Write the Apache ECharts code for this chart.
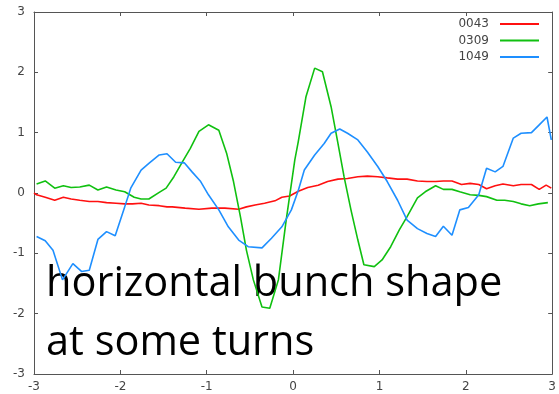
<!DOCTYPE html>
<html>
<head>
<meta charset="utf-8">
<script src="https://cdn.jsdelivr.net/npm/echarts@6/dist/echarts.min.js"></script>
<style>
  html, body { margin: 0; padding: 0; background: #fff; }
  #chart { width: 559px; height: 394px; }
</style>
</head>
<body>
<div id="chart"></div>
<script>
// Series names shown in the legend
const seriesNames = ['0043', '0309', '1049'];

// Horizontal positions and profile values for each turn
const x0043 = [-3.0, -2.97, -2.87, -2.76, -2.66, -2.57, -2.47, -2.36, -2.26, -2.16, -2.05, -1.95, -1.86, -1.76, -1.67, -1.55, -1.46, -1.40, -1.25, -1.09, -0.94, -0.79, -0.63, -0.54, -0.44, -0.33, -0.21, -0.13, -0.04, 0.06, 0.17, 0.29, 0.40, 0.52, 0.63, 0.75, 0.86, 0.98, 1.09, 1.21, 1.32, 1.44, 1.55, 1.65, 1.74, 1.84, 1.95, 2.05, 2.15, 2.24, 2.34, 2.43, 2.55, 2.64, 2.76, 2.85, 2.93, 2.99];
const y0043 = [0.0, -0.03, -0.07, -0.12, -0.07, -0.10, -0.12, -0.14, -0.14, -0.16, -0.17, -0.18, -0.18, -0.17, -0.20, -0.21, -0.23, -0.23, -0.25, -0.27, -0.25, -0.25, -0.27, -0.23, -0.20, -0.17, -0.13, -0.07, -0.05, 0.03, 0.09, 0.13, 0.19, 0.23, 0.24, 0.27, 0.28, 0.27, 0.25, 0.23, 0.23, 0.20, 0.19, 0.19, 0.20, 0.20, 0.14, 0.16, 0.14, 0.07, 0.12, 0.15, 0.12, 0.14, 0.14, 0.06, 0.13, 0.08];

const x0309 = [-2.97, -2.87, -2.76, -2.66, -2.57, -2.47, -2.36, -2.26, -2.16, -2.05, -1.95, -1.84, -1.76, -1.67, -1.55, -1.47, -1.38, -1.28, -1.19, -1.09, -0.98, -0.86, -0.77, -0.69, -0.61, -0.54, -0.46, -0.36, -0.27, -0.17, -0.08, 0.02, 0.06, 0.15, 0.25, 0.34, 0.44, 0.52, 0.59, 0.67, 0.75, 0.82, 0.94, 1.03, 1.13, 1.23, 1.32, 1.44, 1.53, 1.65, 1.74, 1.84, 1.93, 2.05, 2.15, 2.24, 2.36, 2.45, 2.55, 2.64, 2.74, 2.84, 2.95];
const y0309 = [0.15, 0.20, 0.08, 0.12, 0.09, 0.10, 0.13, 0.05, 0.10, 0.05, 0.02, -0.07, -0.10, -0.10, 0.01, 0.08, 0.27, 0.52, 0.74, 1.02, 1.13, 1.04, 0.66, 0.19, -0.39, -0.95, -1.44, -1.89, -1.91, -1.44, -0.45, 0.55, 0.85, 1.60, 2.07, 2.01, 1.43, 0.82, 0.27, -0.28, -0.78, -1.19, -1.22, -1.11, -0.89, -0.61, -0.39, -0.08, 0.02, 0.12, 0.06, 0.06, 0.02, -0.03, -0.04, -0.06, -0.12, -0.12, -0.14, -0.18, -0.21, -0.18, -0.16];

const x1049 = [-2.97, -2.87, -2.78, -2.67, -2.55, -2.45, -2.36, -2.26, -2.16, -2.06, -1.95, -1.88, -1.76, -1.67, -1.55, -1.46, -1.36, -1.26, -1.17, -1.07, -0.98, -0.86, -0.75, -0.63, -0.52, -0.36, -0.25, -0.13, -0.02, 0.06, 0.13, 0.25, 0.36, 0.44, 0.54, 0.63, 0.75, 0.86, 0.98, 1.09, 1.21, 1.32, 1.44, 1.55, 1.65, 1.74, 1.84, 1.93, 2.03, 2.15, 2.24, 2.34, 2.43, 2.55, 2.64, 2.76, 2.85, 2.94, 2.99];
const y1049 = [-0.72, -0.79, -0.95, -1.44, -1.17, -1.30, -1.28, -0.77, -0.64, -0.71, -0.23, 0.08, 0.38, 0.49, 0.63, 0.65, 0.51, 0.50, 0.35, 0.19, -0.03, -0.28, -0.56, -0.78, -0.89, -0.91, -0.75, -0.56, -0.28, 0.04, 0.38, 0.63, 0.82, 0.99, 1.06, 0.99, 0.88, 0.68, 0.44, 0.19, -0.12, -0.45, -0.59, -0.67, -0.72, -0.55, -0.70, -0.28, -0.24, -0.03, 0.41, 0.35, 0.44, 0.91, 0.99, 1.00, 1.13, 1.26, 0.88];

// Axis range and tick step
const axisMin = -3;
const axisMax = 3;
const tickStep = 1;

// Overlay caption lines
const captionLines = ['horizontal bunch shape', 'at some turns'];

const pairs = (xs, ys) => xs.map((x, i) => [x, ys[i]]);
const colors = ['#ff1010', '#10c010', '#1e8fff'];

const axisColor = '#555';
const labelStyle = { color: '#444', fontFamily: 'DejaVu Sans, sans-serif', fontSize: 12 };
const captionFont = '41.5px "Open Sans", sans-serif';

function draw() {
  const chart = echarts.init(document.getElementById('chart'), null, { renderer: 'canvas' });

  const baseAxis = {
    type: 'value', min: axisMin, max: axisMax, interval: tickStep,
    splitLine: { show: false },
    axisLine: { show: true, onZero: false, lineStyle: { color: axisColor, width: 1 } },
    axisTick: { show: true, inside: true, length: 4, lineStyle: { color: axisColor } }
  };

  chart.setOption({
    animation: false,
    backgroundColor: '#fff',
    grid: { left: 34, right: 3, top: 12, bottom: 20, containLabel: false },
    legend: {
      orient: 'vertical',
      right: 20,
      top: 17,
      padding: 0,
      align: 'right',
      itemWidth: 39,
      itemHeight: 2,
      itemGap: 2.5,
      icon: 'rect',
      textStyle: { color: '#444', fontFamily: 'DejaVu Sans, sans-serif', fontSize: 12, lineHeight: 14, padding: [0, 6, 0, 0] },
      data: seriesNames
    },
    xAxis: [
      Object.assign({}, baseAxis, {
        position: 'bottom',
        axisLabel: Object.assign({ margin: 7 }, labelStyle)
      }),
      Object.assign({}, baseAxis, {
        position: 'top',
        axisLabel: { show: false }
      })
    ],
    yAxis: [
      Object.assign({}, baseAxis, {
        position: 'left',
        axisLabel: Object.assign({ margin: 9 }, labelStyle)
      }),
      Object.assign({}, baseAxis, {
        position: 'right',
        axisLabel: { show: false }
      })
    ],
    graphic: captionLines.map((line, i) => ({
      type: 'text',
      left: 46,
      top: 263 + i * 59,
      z: 0,
      silent: true,
      style: { text: line, fill: '#000', font: captionFont }
    })),
    series: [
      pairs(x0043, y0043),
      pairs(x0309, y0309),
      pairs(x1049, y1049)
    ].map((data, i) => ({
      name: seriesNames[i],
      type: 'line',
      data: data,
      showSymbol: false,
      symbol: 'none',
      z: 5,
      clip: true,
      itemStyle: { color: colors[i] },
      lineStyle: { color: colors[i], width: 1.6 }
    }))
  });
}

// Make sure the caption font is ready before measuring text
if (document.fonts && document.fonts.load) {
  Promise.all([
    document.fonts.load(captionFont, 'horizontal'),
    document.fonts.load('12px "DejaVu Sans"', '0123')
  ]).then(draw, draw);
} else {
  draw();
}
</script>
</body>
</html>
